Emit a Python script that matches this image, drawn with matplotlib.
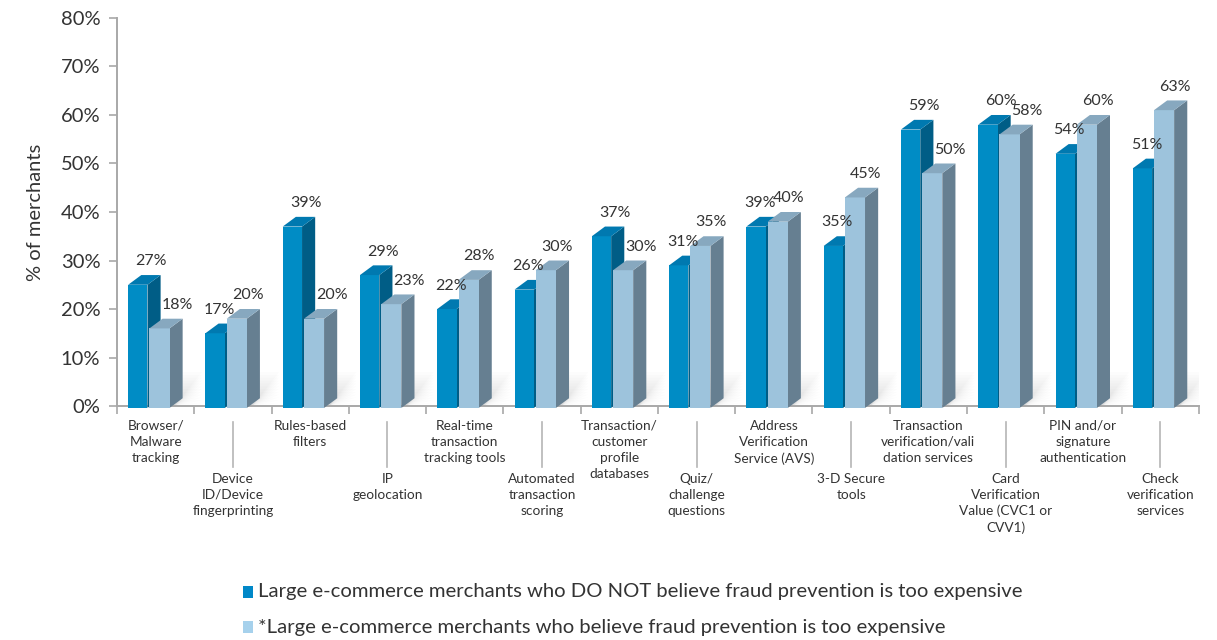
import numpy as np
import matplotlib.pyplot as plt
from matplotlib.patches import Polygon, Rectangle
from matplotlib.lines import Line2D

categories = [
    "Browser/\nMalware\ntracking",
    "Device\nID/Device\nfingerprinting",
    "Rules-based\nfilters",
    "IP\ngeolocation",
    "Real-time\ntransaction\ntracking tools",
    "Automated\ntransaction\nscoring",
    "Transaction/\ncustomer\nprofile\ndatabases",
    "Quiz/\nchallenge\nquestions",
    "Address\nVerification\nService (AVS)",
    "3-D Secure\ntools",
    "Transaction\nverification/vali\ndation services",
    "Card\nVerification\nValue (CVC1 or\nCVV1)",
    "PIN and/or\nsignature\nauthentication",
    "Check\nverification\nservices",
]
not_expensive = [27, 17, 39, 29, 22, 26, 37, 31, 39, 35, 59, 60, 54, 51]
too_expensive = [18, 20, 20, 23, 28, 30, 30, 35, 40, 45, 50, 58, 60, 63]

legend_labels = [
    "Large e-commerce merchants who DO NOT believe fraud prevention is too expensive",
    "*Large e-commerce merchants who believe fraud prevention is too expensive",
]

# front / top / side shades for the two series
dark = dict(front="#008cc5", top="#0079b0", side="#005d86")
light = dict(front="#9dc3dc", top="#87a8bf", side="#667f91")
legend_colors = ["#0088c8", "#a6d1ec"]

plt.rcParams["font.family"] = ["Lato", "DejaVu Sans"]
TXT = "#333333"
AXC = "#a8a8a8"

fig = plt.figure(figsize=(12.17, 6.4), dpi=100)
ax = fig.add_axes([0.0961, 0.3656, 0.889, 0.6063])
ax.set_xlim(0, len(categories))
ax.set_ylim(0, 80)

DX = 0.17   # depth offset in category units
DY = 2.0    # depth offset in percent
BASE = -0.4


def bar3d(x0, w, v, c):
    front = Rectangle((x0, BASE), w, v - DY - BASE, facecolor=c["front"],
                      edgecolor="none", clip_on=False, zorder=3)
    top = Polygon([(x0, v - DY), (x0 + w, v - DY), (x0 + w + DX, v), (x0 + DX, v)],
                  closed=True, facecolor=c["top"], edgecolor="none",
                  clip_on=False, zorder=3)
    side = Polygon([(x0 + w, BASE), (x0 + w + DX, BASE + DY), (x0 + w + DX, v),
                    (x0 + w, v - DY)], closed=True, facecolor=c["side"],
                   edgecolor="none", clip_on=False, zorder=3)
    for p in (side, front, top):
        ax.add_patch(p)


def shadow(x0, x1):
    # soft floor shadow behind each group
    steps = 12
    for i in range(steps):
        h = 7.0 * (i + 1) / steps
        ax.add_patch(Polygon([(x0, 0), (x1, 0), (x1 + 0.35, h), (x0 + 0.35, h)],
                             closed=True, facecolor="#000000", alpha=0.012,
                             edgecolor="none", zorder=2))


for k, (a, b) in enumerate(zip(not_expensive, too_expensive)):
    shadow(k + 0.2, k + 0.75)
    xd, wd = k + 0.145, 0.25
    xl, wl = k + 0.42, 0.26
    bar3d(xd, wd, a, dark)
    bar3d(xl, wl, b, light)
    # the taller bar of the pair gets its label centred, the shorter one
    # is nudged outward so the two don't collide
    ax.text(k + (0.44 if a > b else 0.32), a + 1.4, f"{a}%", ha="center",
            va="bottom", fontsize=11.5, color=TXT, zorder=5)
    ax.text(k + (0.69 if b > a else 0.78), b + 1.4, f"{b}%", ha="center",
            va="bottom", fontsize=11.5, color=TXT, zorder=5)

# axes styling
for s in ("top", "right"):
    ax.spines[s].set_visible(False)
for s in ("left", "bottom"):
    ax.spines[s].set_color(AXC)
    ax.spines[s].set_linewidth(1.4)
ax.set_yticks(np.arange(0, 81, 10))
ax.set_yticklabels([f"{t}%" for t in range(0, 81, 10)])
ax.set_xticks(np.arange(0, len(categories) + 1))
ax.set_xticklabels([])
ax.tick_params(axis="both", direction="out", length=6, width=1.2, color=AXC)
ax.tick_params(axis="y", labelsize=14.5, labelcolor=TXT, pad=6)
ax.set_ylabel("% of merchants", fontsize=14.5, color=TXT, labelpad=12)

# category labels in two staggered rows
for k, lab in enumerate(categories):
    xc = k + 0.5
    if k % 2 == 0:
        ax.annotate(lab, xy=(xc, 0), xycoords=("data", "axes fraction"),
                    xytext=(0, -10), textcoords="offset points",
                    ha="center", va="top", fontsize=9.8, color=TXT,
                    linespacing=1.4)
    else:
        ax.add_line(Line2D([xc, xc], [-0.041, -0.157], color="#b5b5b5", lw=1.2,
                           transform=ax.get_xaxis_transform(), clip_on=False))
        ax.annotate(lab, xy=(xc, 0), xycoords=("data", "axes fraction"),
                    xytext=(0, -48), textcoords="offset points",
                    ha="center", va="top", fontsize=9.8, color=TXT,
                    linespacing=1.4)

# legend
for i, (lab, col) in enumerate(zip(legend_labels, legend_colors)):
    yc = 1 - (592 + 35 * i) / 640
    fig.patches.append(Rectangle((243 / 1217, yc - 6 / 640), 10 / 1217, 12 / 640,
                                 facecolor=col, edgecolor="none",
                                 transform=fig.transFigure, figure=fig))
    fig.text(258 / 1217, yc, lab, ha="left", va="center", fontsize=14.6,
             color=TXT)

fig.savefig("out.png", dpi=100, facecolor="white")
